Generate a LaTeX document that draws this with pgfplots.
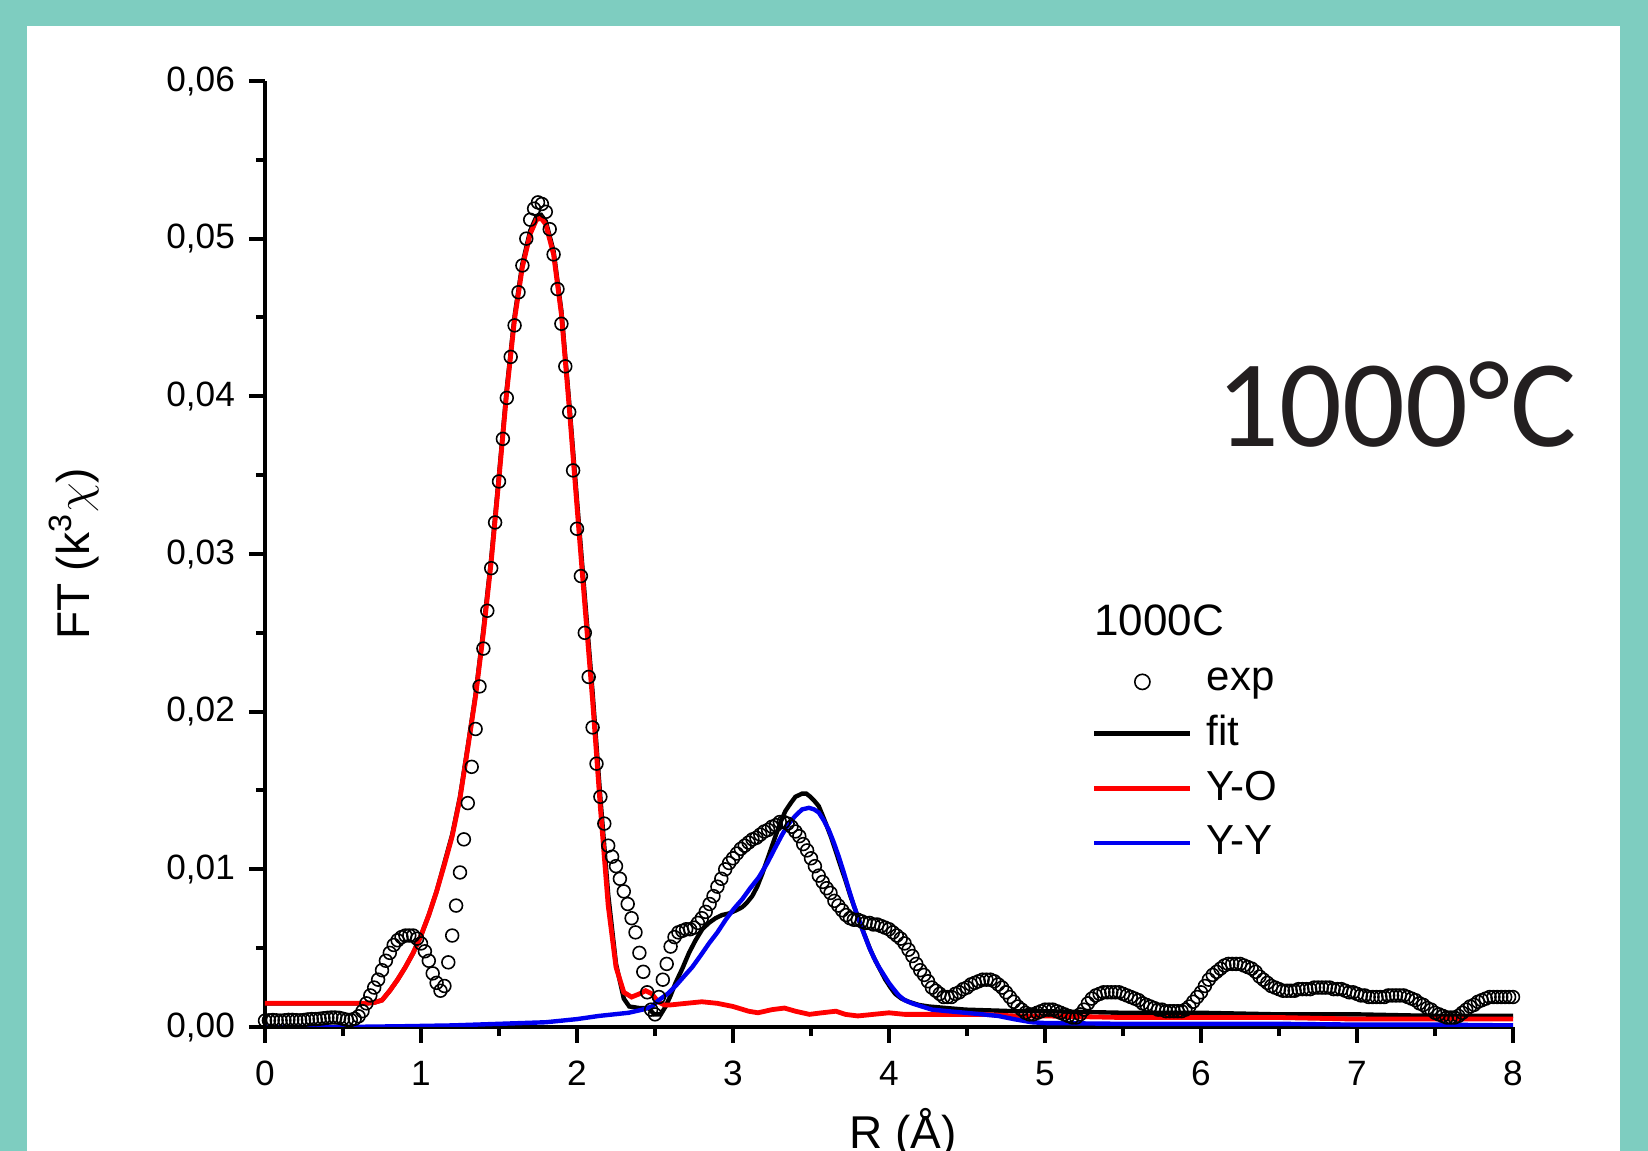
\documentclass[border=0pt]{standalone}
\usepackage{fontspec}
\usepackage{pgfplots}
\pgfplotsset{compat=1.18}
\setmainfont{Liberation Sans}
\newfontfamily\bigfont{Carlito}
\definecolor{frame}{RGB}{126,205,192}
\definecolor{bigtxt}{RGB}{35,31,32}
\definecolor{yored}{RGB}{255,0,0}
\definecolor{yyblue}{RGB}{0,0,240}
\pgfplotsset{
    seg legend/.style={legend image code/.code={\draw[##1] (0pt,0pt) -- (24pt,0pt);}},
    circ legend/.style={legend image code/.code={\draw[##1, mark size=1.9pt] plot coordinates {(12pt,0pt)};}},
}

\begin{document}
\begin{tikzpicture}
\path[use as bounding box, clip] (0,0) rectangle (412pt,287.75pt);
\fill[frame] (0,0) rectangle (412pt,287.75pt);
\fill[white] (6.75pt,0) rectangle (405pt,281.25pt);
\begin{axis}[
    at={(66.25pt,31pt)}, anchor=south west,
    scale only axis, width=312pt, height=236.5pt,
    xmin=0, xmax=8, ymin=0, ymax=0.06,
    axis x line*=bottom, axis y line*=left,
    axis line style={black, line width=1pt},
    xtick={0,1,...,8}, minor x tick num=1,
    ytick={0,0.01,...,0.06}, minor y tick num=1,
    tick align=outside,
    major tick length=4pt, minor tick length=2.3pt,
    tick style={black, line width=1pt},
    scaled y ticks=false,
    /pgf/number format/assume math mode=true,
    ticklabel style={font=\fontsize{8.8}{10.5}\selectfont},
    xticklabel style={yshift=-1pt},
    yticklabel style={/pgf/number format/.cd, fixed, fixed zerofill, precision=2, use comma},
    xlabel={R (Å)}, ylabel={FT (k\textsuperscript{3}$\chi$)},
    label style={font=\fontsize{11.5}{13.8}\selectfont},
    xlabel style={at={(axis description cs:0.511,-0.128)}, anchor=base},
    ylabel style={at={(axis description cs:-0.153,0.5)}, anchor=center},
    legend style={draw=none, fill=none, at={(0.662,0.385)}, anchor=north west,
        inner sep=0pt, row sep=2.8pt,
        nodes={inner sep=1pt},
        /tikz/every odd column/.append style={column sep=2.5pt},
        font=\fontsize{10.5}{12}\selectfont},
    legend cell align=left,
    seg legend,
]
% experimental FT magnitude
\addplot[only marks, mark=o, mark size=1.6pt, mark options={black, line width=0.4pt, fill=white}, circ legend]
coordinates {
(0.000,0.00040) (0.025,0.00042) (0.050,0.00044) (0.075,0.00042) (0.100,0.00040) (0.125,0.00042) (0.150,0.00045) (0.175,0.00045) (0.200,0.00043) (0.225,0.00042)
(0.250,0.00044) (0.275,0.00048) (0.300,0.00050) (0.325,0.00050) (0.350,0.00052) (0.375,0.00055) (0.400,0.00058) (0.425,0.00060) (0.450,0.00060) (0.475,0.00058)
(0.500,0.00052) (0.525,0.00046) (0.550,0.00045) (0.575,0.00052) (0.600,0.00068) (0.625,0.0010) (0.650,0.0015) (0.675,0.0020) (0.700,0.0025) (0.725,0.0030)
(0.750,0.0036) (0.775,0.0042) (0.800,0.0047) (0.825,0.0052) (0.850,0.0055) (0.875,0.0057) (0.900,0.0058) (0.925,0.0058) (0.950,0.0058) (0.975,0.0056)
(1.000,0.0053) (1.025,0.0048) (1.050,0.0042) (1.075,0.0034) (1.100,0.0028) (1.125,0.0023) (1.150,0.0026) (1.175,0.0041) (1.200,0.0058) (1.225,0.0077)
(1.250,0.0098) (1.275,0.0119) (1.300,0.0142) (1.325,0.0165) (1.350,0.0189) (1.375,0.0216) (1.400,0.0240) (1.425,0.0264) (1.450,0.0291) (1.475,0.0320)
(1.500,0.0346) (1.525,0.0373) (1.550,0.0399) (1.575,0.0425) (1.600,0.0445) (1.625,0.0466) (1.650,0.0483) (1.675,0.0500) (1.700,0.0512) (1.725,0.0519)
(1.750,0.0523) (1.775,0.0522) (1.800,0.0517) (1.825,0.0506) (1.850,0.0490) (1.875,0.0468) (1.900,0.0446) (1.925,0.0419) (1.950,0.0390) (1.975,0.0353)
(2.000,0.0316) (2.025,0.0286) (2.050,0.0250) (2.075,0.0222) (2.100,0.0190) (2.125,0.0167) (2.150,0.0146) (2.175,0.0129) (2.200,0.0115) (2.225,0.0108)
(2.250,0.0102) (2.275,0.0094) (2.300,0.0086) (2.325,0.0078) (2.350,0.0069) (2.375,0.0060) (2.400,0.0047) (2.425,0.0035) (2.450,0.0022) (2.475,0.0011)
(2.500,0.0008) (2.525,0.0019) (2.550,0.0030) (2.575,0.0040) (2.600,0.0051) (2.625,0.0057) (2.650,0.0060) (2.675,0.0061) (2.700,0.0062) (2.725,0.0062)
(2.750,0.0063) (2.775,0.0066) (2.800,0.0069) (2.825,0.0073) (2.850,0.0078) (2.875,0.0083) (2.900,0.0089) (2.925,0.0094) (2.950,0.0100) (2.975,0.0104)
(3.000,0.0107) (3.025,0.0110) (3.050,0.0113) (3.075,0.0115) (3.100,0.0117) (3.125,0.0119) (3.150,0.0120) (3.175,0.0122) (3.200,0.0124) (3.225,0.0125)
(3.250,0.0127) (3.275,0.0128) (3.300,0.0130) (3.325,0.0130) (3.350,0.0129) (3.375,0.0127) (3.400,0.0124) (3.425,0.0121) (3.450,0.0116) (3.475,0.0112)
(3.500,0.0107) (3.525,0.0102) (3.550,0.0096) (3.575,0.0092) (3.600,0.0088) (3.625,0.0085) (3.650,0.0080) (3.675,0.0077) (3.700,0.0074) (3.725,0.0071)
(3.750,0.0069) (3.775,0.0068) (3.800,0.0068) (3.825,0.0067) (3.850,0.0066) (3.875,0.0066) (3.900,0.0065) (3.925,0.0065) (3.950,0.0064) (3.975,0.0063)
(4.000,0.0062) (4.025,0.0060) (4.050,0.0058) (4.075,0.0056) (4.100,0.0053) (4.125,0.0049) (4.150,0.0045) (4.175,0.0040) (4.200,0.0036) (4.225,0.0033)
(4.250,0.0029) (4.275,0.0025) (4.300,0.0023) (4.325,0.0021) (4.350,0.0019) (4.375,0.0019) (4.400,0.0019) (4.425,0.0021) (4.450,0.0022) (4.475,0.0024)
(4.500,0.0025) (4.525,0.0027) (4.550,0.0028) (4.575,0.0029) (4.600,0.0030) (4.625,0.0030) (4.650,0.0030) (4.675,0.0029) (4.700,0.0027) (4.725,0.0025)
(4.750,0.0022) (4.775,0.0019) (4.800,0.0016) (4.825,0.0013) (4.850,0.0011) (4.875,0.0009) (4.900,0.0008) (4.925,0.0008) (4.950,0.0009) (4.975,0.0010)
(5.000,0.0011) (5.025,0.0011) (5.050,0.0011) (5.075,0.0010) (5.100,0.0009) (5.125,0.0008) (5.150,0.0007) (5.175,0.0006) (5.200,0.0006) (5.225,0.0008)
(5.250,0.0011) (5.275,0.0015) (5.300,0.0018) (5.325,0.0020) (5.350,0.0021) (5.375,0.0022) (5.400,0.0022) (5.425,0.0022) (5.450,0.0022) (5.475,0.0022)
(5.500,0.0021) (5.525,0.0020) (5.550,0.0019) (5.575,0.0018) (5.600,0.0017) (5.625,0.0015) (5.650,0.0014) (5.675,0.0013) (5.700,0.0012) (5.725,0.0011)
(5.750,0.0011) (5.775,0.0010) (5.800,0.0010) (5.825,0.0010) (5.850,0.0010) (5.875,0.0010) (5.900,0.0011) (5.925,0.0013) (5.950,0.0016) (5.975,0.0019)
(6.000,0.0022) (6.025,0.0026) (6.050,0.0030) (6.075,0.0033) (6.100,0.0035) (6.125,0.0037) (6.150,0.0039) (6.175,0.0040) (6.200,0.0040) (6.225,0.0040)
(6.250,0.0040) (6.275,0.0039) (6.300,0.0038) (6.325,0.0037) (6.350,0.0035) (6.375,0.0032) (6.400,0.0030) (6.425,0.0028) (6.450,0.0026) (6.475,0.0025)
(6.500,0.0024) (6.525,0.0023) (6.550,0.0023) (6.575,0.0023) (6.600,0.0023) (6.625,0.0024) (6.650,0.0024) (6.675,0.0024) (6.700,0.0024) (6.725,0.0025)
(6.750,0.0025) (6.775,0.0025) (6.800,0.0025) (6.825,0.0025) (6.850,0.0024) (6.875,0.0024) (6.900,0.0024) (6.925,0.0023) (6.950,0.0022) (6.975,0.0022)
(7.000,0.0021) (7.025,0.0020) (7.050,0.0020) (7.075,0.0019) (7.100,0.0019) (7.125,0.0019) (7.150,0.0019) (7.175,0.0019) (7.200,0.0020) (7.225,0.0020)
(7.250,0.0020) (7.275,0.0020) (7.300,0.0020) (7.325,0.0019) (7.350,0.0018) (7.375,0.0017) (7.400,0.0015) (7.425,0.0014) (7.450,0.0012) (7.475,0.0011)
(7.500,0.0009) (7.525,0.0008) (7.550,0.0007) (7.575,0.0006) (7.600,0.0006) (7.625,0.0006) (7.650,0.0007) (7.675,0.0009) (7.700,0.0011) (7.725,0.0013)
(7.750,0.0014) (7.775,0.0016) (7.800,0.0017) (7.825,0.0018) (7.850,0.0019) (7.875,0.0019) (7.900,0.0019) (7.925,0.0019) (7.950,0.0019) (7.975,0.0019)
(8.000,0.0019)
};
\addlegendentry{exp}
% total fit
\addplot[black, line width=1.1pt] coordinates {
(0,0.0015) (0.65,0.0015) (0.7,0.00155) (0.75,0.0017) (0.8,0.0023) (0.85,0.0030) (0.9,0.0038) (0.95,0.0047)
(1.0,0.0058) (1.05,0.0071) (1.1,0.0086) (1.15,0.0104) (1.2,0.0122) (1.25,0.0146) (1.3,0.0178) (1.35,0.0211)
(1.4,0.0252) (1.45,0.0297) (1.5,0.0350) (1.55,0.0405) (1.6,0.0451) (1.65,0.0484) (1.7,0.0505) (1.74,0.0514)
(1.77,0.0515) (1.8,0.0511) (1.85,0.0492) (1.9,0.0454) (1.95,0.0396) (2.0,0.0334) (2.05,0.0273) (2.1,0.0212)
(2.15,0.0145) (2.2,0.0084) (2.25,0.0040) (2.3,0.0018) (2.335,0.0013) (2.4,0.0012) (2.46,0.0012) (2.494,0.0008)
(2.537,0.0008) (2.568,0.0013) (2.6,0.0020) (2.632,0.0028) (2.675,0.0037) (2.718,0.0047) (2.76,0.0055) (2.803,0.0062)
(2.845,0.0066) (2.888,0.0069) (2.93,0.0071) (2.974,0.0072) (3.02,0.0074) (3.059,0.0076) (3.09,0.0079) (3.123,0.0083)
(3.155,0.0089) (3.187,0.0097) (3.23,0.0109) (3.272,0.0121) (3.305,0.0130) (3.336,0.0137) (3.37,0.0142) (3.4,0.0146)
(3.443,0.0148) (3.47,0.0148) (3.496,0.0146) (3.525,0.0143) (3.55,0.0140) (3.575,0.0134) (3.603,0.0127) (3.63,0.0120)
(3.657,0.0112) (3.69,0.0102) (3.721,0.0093) (3.753,0.0083) (3.785,0.0074) (3.817,0.0065) (3.849,0.0057) (3.88,0.0049)
(3.913,0.0042) (3.945,0.0036) (3.977,0.0030) (4.01,0.0025) (4.04,0.0021) (4.08,0.0018) (4.126,0.0016) (4.19,0.0014)
(4.254,0.0013) (4.37,0.0012) (4.49,0.0011) (4.65,0.00105) (4.81,0.0010) (5.0,0.0010) (5.5,0.0009) (6.0,0.0009)
(6.5,0.0008) (7.0,0.0008) (7.5,0.0007) (8.0,0.0007)
};
\addlegendentry{fit}
% Y-O shell
\addplot[yored, line width=1.2pt] coordinates {
(0,0.0015) (0.65,0.0015) (0.7,0.00155) (0.75,0.0017) (0.8,0.0023) (0.85,0.0030) (0.9,0.0038) (0.95,0.0047)
(1.0,0.0058) (1.05,0.0071) (1.1,0.0086) (1.15,0.0103) (1.2,0.0121) (1.25,0.0145) (1.3,0.0177) (1.35,0.0210)
(1.4,0.0250) (1.45,0.0295) (1.5,0.0348) (1.55,0.0403) (1.6,0.0449) (1.65,0.0482) (1.7,0.0503) (1.74,0.0512)
(1.77,0.0513) (1.8,0.0509) (1.85,0.0490) (1.9,0.0452) (1.95,0.0393) (2.0,0.0330) (2.05,0.0268) (2.1,0.0207)
(2.15,0.0139) (2.2,0.0077) (2.25,0.0038) (2.3,0.0022) (2.35,0.0019) (2.4,0.0021) (2.44,0.0023) (2.48,0.0021)
(2.52,0.0016) (2.56,0.0014) (2.6,0.0014) (2.7,0.0015) (2.8,0.0016) (2.9,0.0015) (3.0,0.0013) (3.1,0.0010)
(3.16,0.0009) (3.25,0.0011) (3.33,0.0012) (3.4,0.0010) (3.49,0.0008) (3.57,0.0009) (3.66,0.0010) (3.72,0.0008)
(3.8,0.0007) (3.9,0.0008) (4.0,0.0009) (4.1,0.0008) (4.2,0.0008) (4.4,0.0008) (4.6,0.0008) (4.8,0.0007)
(5.0,0.0007) (5.5,0.0006) (6.0,0.0006) (6.5,0.0006) (7.0,0.0005) (7.5,0.0005) (8.0,0.0005)
};
\addlegendentry{Y-O}
% Y-Y shell
\addplot[yyblue, line width=1.1pt] coordinates {
(0,0) (0.5,0) (0.9,0.00005) (1.2,0.0001) (1.5,0.0002) (1.8,0.0003) (2.0,0.0005) (2.14,0.0007)
(2.33,0.0009) (2.42,0.0011) (2.48,0.0013) (2.524,0.0017) (2.58,0.0021) (2.632,0.0026) (2.685,0.0032) (2.739,0.0038)
(2.79,0.0045) (2.846,0.0053) (2.9,0.0060) (2.953,0.0068) (3.006,0.0075) (3.059,0.0081) (3.11,0.0088) (3.166,0.0095)
(3.22,0.0104) (3.272,0.0114) (3.315,0.0122) (3.358,0.0129) (3.4,0.0134) (3.443,0.0138) (3.487,0.0139) (3.52,0.0138)
(3.55,0.0136) (3.582,0.0131) (3.614,0.0125) (3.646,0.0117) (3.678,0.0108) (3.71,0.0098) (3.743,0.0087) (3.775,0.0077)
(3.807,0.0068) (3.84,0.0059) (3.871,0.0051) (3.903,0.0044) (3.935,0.0038) (3.967,0.0033) (3.999,0.0028) (4.03,0.0024)
(4.063,0.0020) (4.1,0.0017) (4.148,0.0015) (4.21,0.0013) (4.276,0.0011) (4.38,0.0010) (4.49,0.0009) (4.6,0.0008)
(4.7,0.0007) (4.8,0.0005) (4.914,0.0003) (5.0,0.00025) (5.5,0.0002) (6.0,0.0002) (6.5,0.0002) (7.0,0.00015)
(7.5,0.00015) (8.0,0.0001)
};
\addlegendentry{Y-Y}
\node[anchor=base west, inner sep=0pt, font=\fontsize{11}{13}\selectfont] at (axis cs:5.31,0.02486) {1000C};
\end{axis}
\node[anchor=base west, text=bigtxt, inner sep=0pt, font=\bigfont\fontsize{31}{37}\selectfont] at (304pt,176pt) {1000°C};
\end{tikzpicture}
\end{document}
